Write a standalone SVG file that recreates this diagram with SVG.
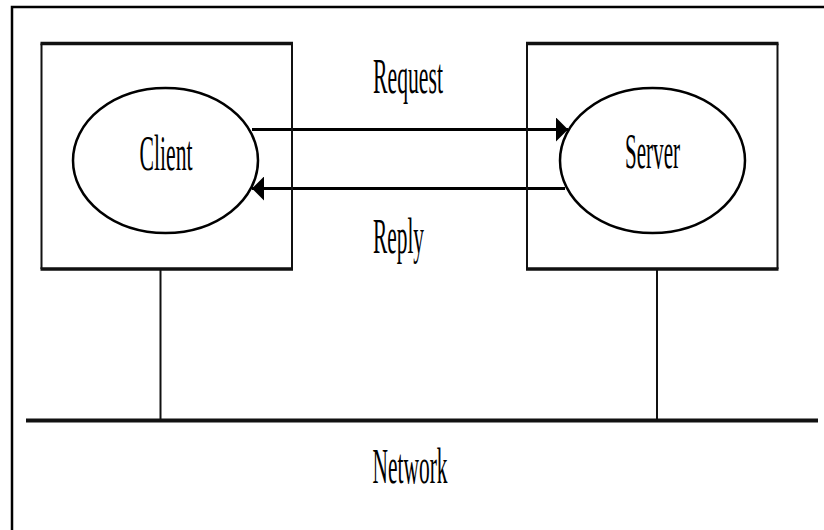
<svg xmlns="http://www.w3.org/2000/svg" width="824" height="530" viewBox="0 0 824 530">
<style>
.frame{fill:none;stroke:#000;stroke-width:2.5}
.side{fill:none;stroke:#111;stroke-width:2}
.edge{fill:none;stroke:#111;stroke-width:3.5}
.ell{fill:#fff;stroke:#000;stroke-width:2.5}
.wire{fill:none;stroke:#111;stroke-width:2}
.net{fill:none;stroke:#111;stroke-width:4}
.arr{fill:none;stroke:#000;stroke-width:3}
.lbl{font-family:"Liberation Serif","Times New Roman",serif;font-size:51px;fill:#000;text-anchor:middle}
</style>
<defs>
<marker id="ah" markerUnits="userSpaceOnUse" markerWidth="13" markerHeight="24" refX="12" refY="12" orient="auto">
<path d="M0,0 L12,12 L0,24 Z" fill="#000"/>
</marker>
</defs>
<rect width="824" height="530" fill="#fff"/>
<g id="frame">
<path class="frame" d="M12,530 V7 H824"/>
</g>
<g id="connectors">
<line class="wire" x1="160.5" y1="270" x2="160.5" y2="421"/>
<line class="wire" x1="657" y1="270" x2="657" y2="421"/>
<line class="net" x1="26" y1="420.5" x2="818" y2="420.5"/>
<line class="arr" x1="252" y1="129.5" x2="568" y2="129.5" marker-end="url(#ah)"/>
<line class="arr" x1="565" y1="188.5" x2="252" y2="188.5" marker-end="url(#ah)"/>
</g>
<g id="client-box">
<path class="side" d="M41.5,43.5 V269 M292,43.5 V269"/>
<path class="edge" d="M40.5,43.5 H293 M40.5,269 H293"/>
</g>
<g id="server-box">
<path class="side" d="M527,43.5 V269 M777.5,43.5 V269"/>
<path class="edge" d="M526,43.5 H778.5 M526,269 H778.5"/>
</g>
<g id="client">
<ellipse class="ell" cx="165.5" cy="160.5" rx="92.5" ry="72.5"/>
<text class="lbl" x="166" y="170" textLength="53" lengthAdjust="spacingAndGlyphs">Client</text>
</g>
<g id="server">
<ellipse class="ell" cx="652.5" cy="160.5" rx="92.5" ry="72.5"/>
<text class="lbl" x="652.5" y="168" textLength="55" lengthAdjust="spacingAndGlyphs">Server</text>
</g>
<g id="labels">
<text class="lbl" x="408" y="93" textLength="70" lengthAdjust="spacingAndGlyphs">Request</text>
<text class="lbl" x="398.5" y="253" textLength="51" lengthAdjust="spacingAndGlyphs">Reply</text>
<text class="lbl" x="410" y="483" textLength="75" lengthAdjust="spacingAndGlyphs">Network</text>
</g>
</svg>
